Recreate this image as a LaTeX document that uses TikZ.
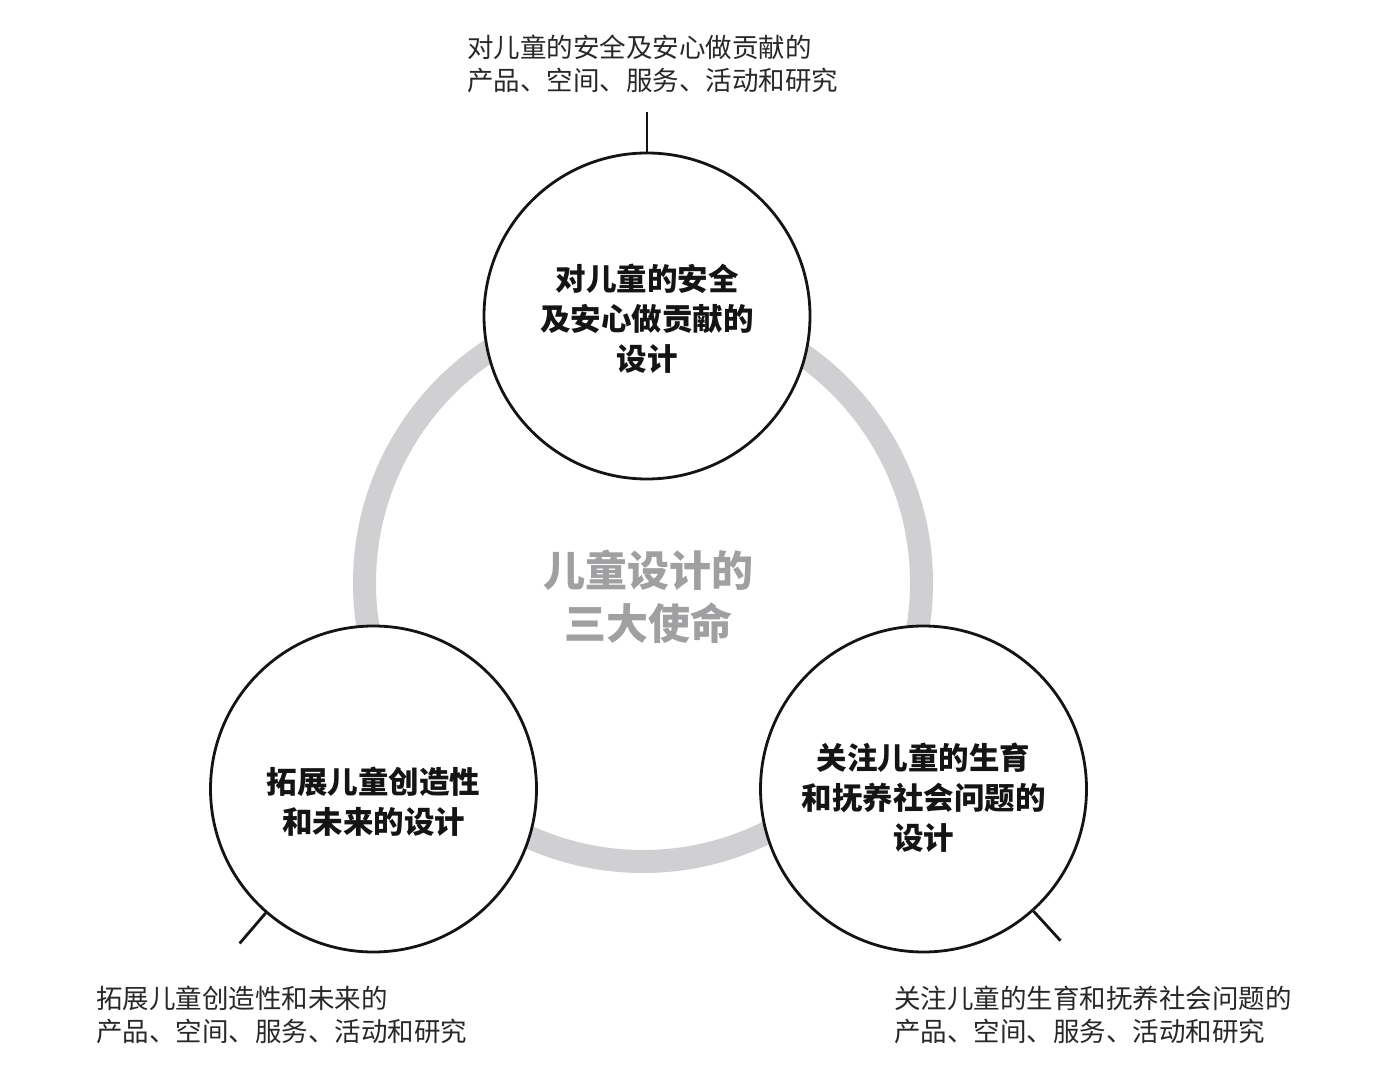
\documentclass[tikz,border=0pt]{standalone}
\usepackage{fontspec}
\newfontfamily\cjk{Noto Sans CJK SC}
\definecolor{ringgray}{RGB}{208,208,210}
\definecolor{centergray}{RGB}{160,160,162}
\definecolor{annot}{RGB}{40,40,40}
\definecolor{ink}{RGB}{20,20,20}
\begin{document}
\begin{tikzpicture}[x=1pt,y=1pt,
  mission/.style={circle,draw=ink,line width=2.8pt,fill=white,minimum size=326pt,inner sep=0pt},
  circtext/.style={font=\cjk\bfseries\fontsize{30.5}{40}\selectfont,text=ink,align=center,inner sep=0pt},
  annottext/.style={font=\cjk\fontsize{26.5}{33}\selectfont,text=annot,align=left,inner sep=0pt,anchor=west},
  tick/.style={draw=ink,line width=2.8pt}]
\useasboundingbox[fill=white] (0,0) rectangle (1388,1082);
% gray ring
\draw[ringgray,line width=23pt] (643,499) circle[radius=278.5];
% centre title
\node[font=\cjk\bfseries\fontsize{42}{53}\selectfont,text=centergray,align=center,inner sep=0pt] (title) at (648,485) {儿童设计的\\三大使命};
% mission circles
\node[mission] (T) at (647,766) {};
\node[mission] (L) at (373.5,293) {};
\node[mission] (R) at (923.5,293) {};
\node[circtext] (Tt) at (647,763) {对儿童的安全\\及安心做贡献的\\设计};
\node[circtext] (Lt) at (373.5,280) {拓展儿童创造性\\和未来的设计};
\node[circtext] (Rt) at (923.5,284) {关注儿童的生育\\和抚养社会问题的\\设计};
% ticks
\coordinate (Te) at ([shift={(90:40pt)}]T.90);
\coordinate (Le) at ([shift={(229.4:40pt)}]L.229.4);
\coordinate (Re) at ([shift={(312.4:40pt)}]R.312.4);
\draw[tick] (T.90) -- (Te);
\draw[tick] (L.229.4) -- (Le);
\draw[tick] (R.312.4) -- (Re);
% annotations
\node[annottext] (Ta) at (467,1018.5) {对儿童的安全及安心做贡献的\\产品、空间、服务、活动和研究};
\node[annottext] (La) at (96,67.5) {拓展儿童创造性和未来的\\产品、空间、服务、活动和研究};
\node[annottext] (Ra) at (894,67.5) {关注儿童的生育和抚养社会问题的\\产品、空间、服务、活动和研究};
\end{tikzpicture}
\end{document}
